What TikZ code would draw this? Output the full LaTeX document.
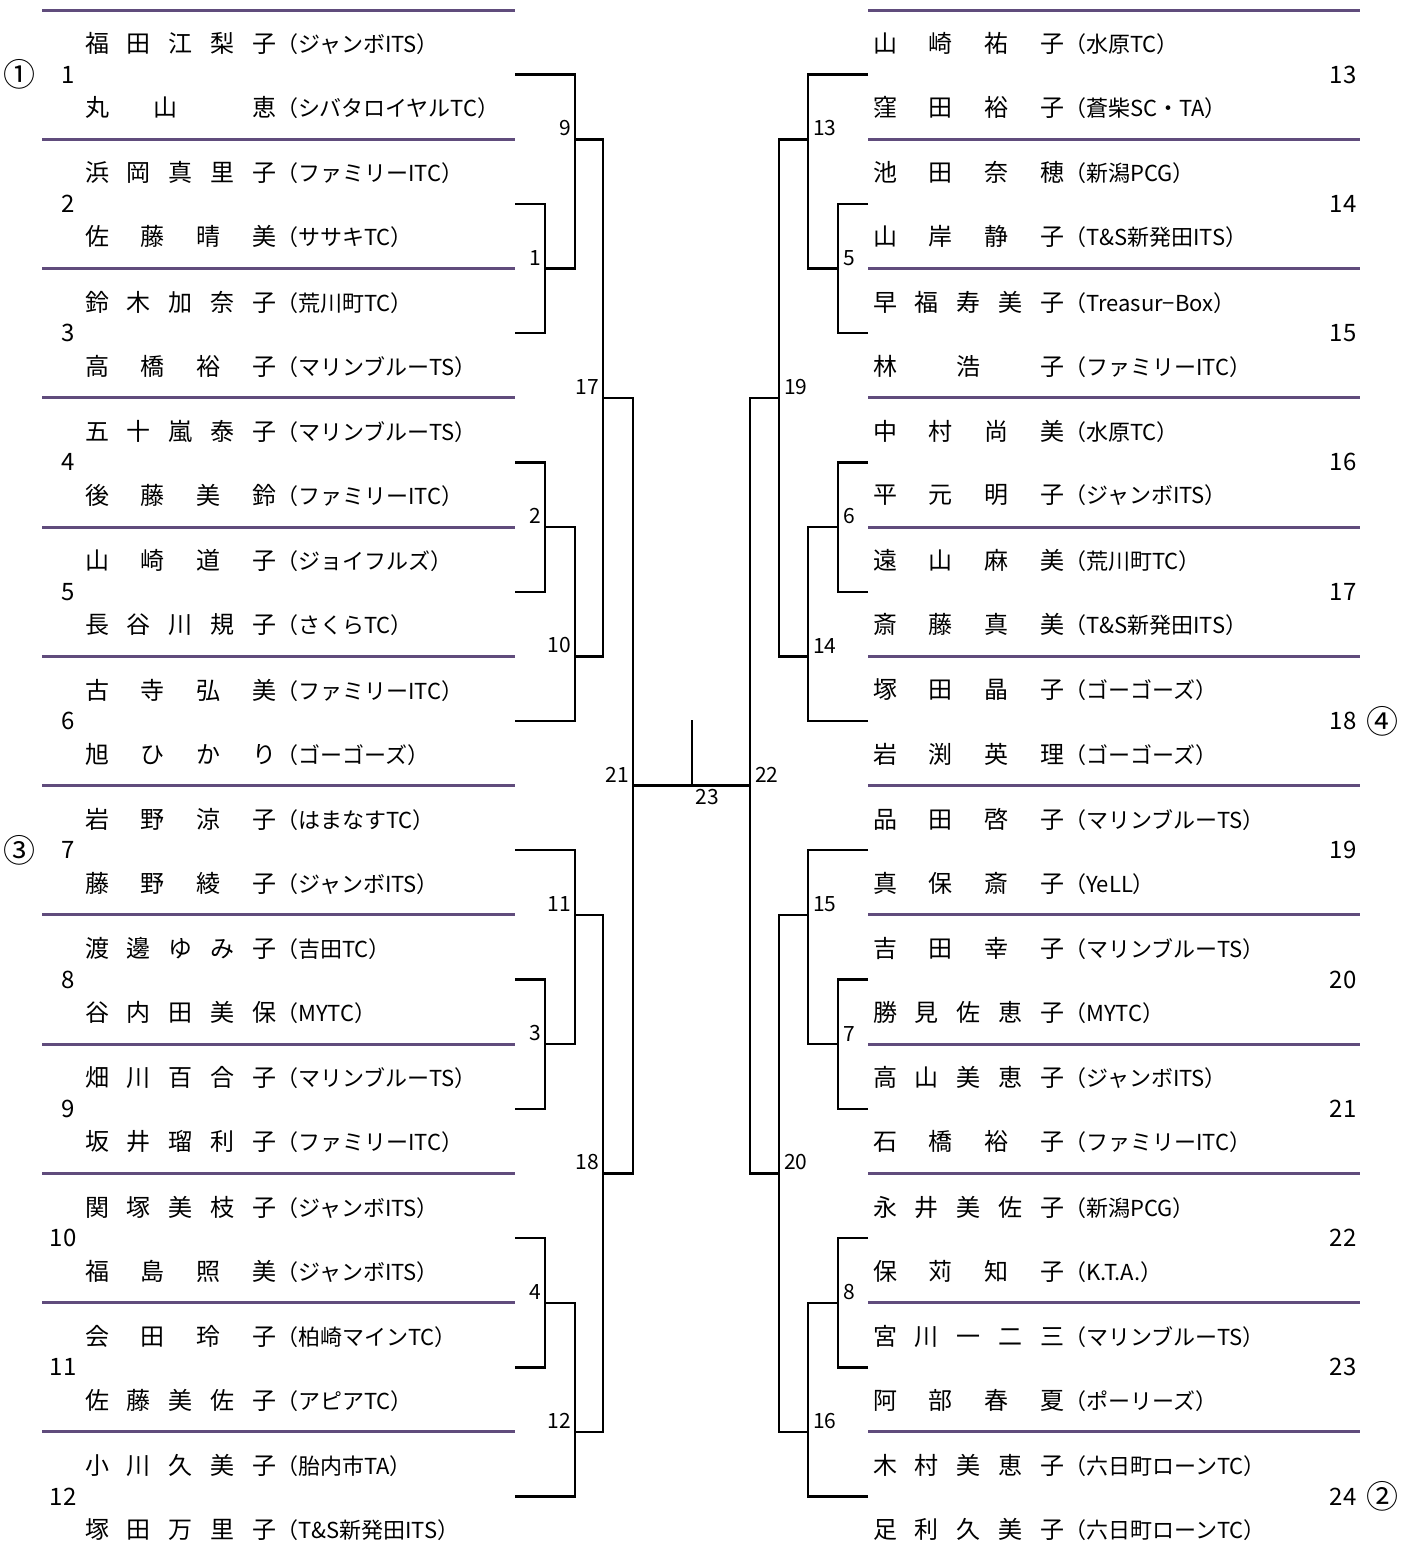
\documentclass[tikz,border=0pt]{standalone}
\usepackage{fontspec}
\setmainfont{Noto Sans CJK JP}
\usetikzlibrary{positioning}
\definecolor{sepline}{RGB}{96,76,124}
\newcommand{\nm}[1]{{\fontsize{24}{24}\selectfont\makebox[191pt][s]{#1}}}
\begin{document}
\begin{tikzpicture}[x=1pt, y=-1pt,
	divider/.style={draw=sepline, line width=3pt},
	bracket/.style={draw=black, line width=2.4pt},
	tnum/.style={font=\fontsize{24}{24}\selectfont, inner sep=0pt},
	seed/.style={font=\fontsize{32}{32}\selectfont, inner sep=0pt},
	pair/.style={font=\fontsize{22}{22}\selectfont, inner sep=0pt, anchor=west},
	mnuml/.style={font=\fontsize{21}{21}\selectfont, inner sep=0pt, anchor=south east, xshift=-4pt, yshift=3pt},
	mnumr/.style={font=\fontsize{21}{21}\selectfont, inner sep=0pt, anchor=south west, xshift=5pt, yshift=3pt},
	]
	\useasboundingbox (0,0) rectangle (1410,1558);
	
	%Dividers
	\foreach \i in {0,...,11} {
		\draw[divider] (42,{10+129.27*\i}) -- (515,{10+129.27*\i});
		\draw[divider] (868,{10+129.27*\i}) -- (1360,{10+129.27*\i});
	}
	
	%Team numbers
	\node[tnum] (t1)  at (68,74.6)   {1};
	\node[tnum] (t2)  at (68,203.9)  {2};
	\node[tnum] (t3)  at (68,333.2)  {3};
	\node[tnum] (t4)  at (68,462.4)  {4};
	\node[tnum] (t5)  at (68,591.7)  {5};
	\node[tnum] (t6)  at (68,721.0)  {6};
	\node[tnum] (t7)  at (68,850.3)  {7};
	\node[tnum] (t8)  at (68,979.5)  {8};
	\node[tnum] (t9)  at (68,1108.8) {9};
	\node[tnum] (t10) at (63,1238.1) {10};
	\node[tnum] (t11) at (63,1367.4) {11};
	\node[tnum] (t12) at (63,1496.6) {12};
	\node[tnum] (t13) at (1343,74.6)   {13};
	\node[tnum] (t14) at (1343,203.9)  {14};
	\node[tnum] (t15) at (1343,333.2)  {15};
	\node[tnum] (t16) at (1343,462.4)  {16};
	\node[tnum] (t17) at (1343,591.7)  {17};
	\node[tnum] (t18) at (1343,721.0)  {18};
	\node[tnum] (t19) at (1343,850.3)  {19};
	\node[tnum] (t20) at (1343,979.5)  {20};
	\node[tnum] (t21) at (1343,1108.8) {21};
	\node[tnum] (t22) at (1343,1238.1) {22};
	\node[tnum] (t23) at (1343,1367.4) {23};
	\node[tnum] (t24) at (1343,1496.6) {24};
	
	%Seeds
	\node[seed] (seed1) [left=25pt of t1]   {①};
	\node[seed] (seed3) [left=25pt of t7]   {③};
	\node[seed] (seed4) [right=10pt of t18] {④};
	\node[seed] (seed2) [right=10pt of t24] {②};
	
	%Pairs, left
	\node[pair] (n1a)  at (85,43.6)   {\nm{福 田 江 梨 子}（ジャンボITS）};
	\node[pair] (n1b)  at (85,107.6)  {\nm{丸\hspace{0pt plus 3fil}山\hspace{0pt plus 5fil}恵}（シバタロイヤルTC）};
	\node[pair] (n2a)  at (85,172.9)  {\nm{浜 岡 真 里 子}（ファミリーITC）};
	\node[pair] (n2b)  at (85,236.9)  {\nm{佐 藤 晴 美}（ササキTC）};
	\node[pair] (n3a)  at (85,302.2)  {\nm{鈴 木 加 奈 子}（荒川町TC）};
	\node[pair] (n3b)  at (85,366.2)  {\nm{高 橋 裕 子}（マリンブルーTS）};
	\node[pair] (n4a)  at (85,431.4)  {\nm{五 十 嵐 泰 子}（マリンブルーTS）};
	\node[pair] (n4b)  at (85,495.4)  {\nm{後 藤 美 鈴}（ファミリーITC）};
	\node[pair] (n5a)  at (85,560.7)  {\nm{山 崎 道 子}（ジョイフルズ）};
	\node[pair] (n5b)  at (85,624.7)  {\nm{長 谷 川 規 子}（さくらTC）};
	\node[pair] (n6a)  at (85,690.0)  {\nm{古 寺 弘 美}（ファミリーITC）};
	\node[pair] (n6b)  at (85,754.0)  {\nm{旭 ひ か り}（ゴーゴーズ）};
	\node[pair] (n7a)  at (85,819.3)  {\nm{岩 野 涼 子}（はまなすTC）};
	\node[pair] (n7b)  at (85,883.3)  {\nm{藤 野 綾 子}（ジャンボITS）};
	\node[pair] (n8a)  at (85,948.5)  {\nm{渡 邊 ゆ み 子}（吉田TC）};
	\node[pair] (n8b)  at (85,1012.5) {\nm{谷 内 田 美 保}（MYTC）};
	\node[pair] (n9a)  at (85,1077.8) {\nm{畑 川 百 合 子}（マリンブルーTS）};
	\node[pair] (n9b)  at (85,1141.8) {\nm{坂 井 瑠 利 子}（ファミリーITC）};
	\node[pair] (n10a) at (85,1207.1) {\nm{関 塚 美 枝 子}（ジャンボITS）};
	\node[pair] (n10b) at (85,1271.1) {\nm{福 島 照 美}（ジャンボITS）};
	\node[pair] (n11a) at (85,1336.4) {\nm{会 田 玲 子}（柏崎マインTC）};
	\node[pair] (n11b) at (85,1400.4) {\nm{佐 藤 美 佐 子}（アピアTC）};
	\node[pair] (n12a) at (85,1465.6) {\nm{小 川 久 美 子}（胎内市TA）};
	\node[pair] (n12b) at (85,1529.6) {\nm{塚 田 万 里 子}（T\&S新発田ITS）};
	
	%Pairs, right
	\node[pair] (n13a) at (873,43.6)   {\nm{山 崎 祐 子}（水原TC）};
	\node[pair] (n13b) at (873,107.6)  {\nm{窪 田 裕 子}（蒼柴SC・TA）};
	\node[pair] (n14a) at (873,172.9)  {\nm{池 田 奈 穂}（新潟PCG）};
	\node[pair] (n14b) at (873,236.9)  {\nm{山 岸 静 子}（T\&S新発田ITS）};
	\node[pair] (n15a) at (873,302.2)  {\nm{早 福 寿 美 子}（Treasur−Box）};
	\node[pair] (n15b) at (873,366.2)  {\nm{林 浩 子}（ファミリーITC）};
	\node[pair] (n16a) at (873,431.4)  {\nm{中 村 尚 美}（水原TC）};
	\node[pair] (n16b) at (873,495.4)  {\nm{平 元 明 子}（ジャンボITS）};
	\node[pair] (n17a) at (873,560.7)  {\nm{遠 山 麻 美}（荒川町TC）};
	\node[pair] (n17b) at (873,624.7)  {\nm{斎 藤 真 美}（T\&S新発田ITS）};
	\node[pair] (n18a) at (873,690.0)  {\nm{塚 田 晶 子}（ゴーゴーズ）};
	\node[pair] (n18b) at (873,754.0)  {\nm{岩 渕 英 理}（ゴーゴーズ）};
	\node[pair] (n19a) at (873,819.3)  {\nm{品 田 啓 子}（マリンブルーTS）};
	\node[pair] (n19b) at (873,883.3)  {\nm{真 保 斎 子}（YeLL）};
	\node[pair] (n20a) at (873,948.5)  {\nm{吉 田 幸 子}（マリンブルーTS）};
	\node[pair] (n20b) at (873,1012.5) {\nm{勝 見 佐 恵 子}（MYTC）};
	\node[pair] (n21a) at (873,1077.8) {\nm{高 山 美 恵 子}（ジャンボITS）};
	\node[pair] (n21b) at (873,1141.8) {\nm{石 橋 裕 子}（ファミリーITC）};
	\node[pair] (n22a) at (873,1207.1) {\nm{永 井 美 佐 子}（新潟PCG）};
	\node[pair] (n22b) at (873,1271.1) {\nm{保 苅 知 子}（K.T.A.）};
	\node[pair] (n23a) at (873,1336.4) {\nm{宮 川 一 二 三}（マリンブルーTS）};
	\node[pair] (n23b) at (873,1400.4) {\nm{阿 部 春 夏}（ポーリーズ）};
	\node[pair] (n24a) at (873,1465.6) {\nm{木 村 美 恵 子}（六日町ローンTC）};
	\node[pair] (n24b) at (873,1529.6) {\nm{足 利 久 美 子}（六日町ローンTC）};
	
	%Bracket ends
	\foreach \k in {1,...,12}
		\coordinate (e\k) at (515,{10+129.27*(\k-0.5)});
	\foreach \k in {13,...,24}
		\coordinate (e\k) at (868,{10+129.27*(\k-12.5)});
	
	%Match points
	\coordinate (m1)  at (545,268.5);
	\coordinate (m2)  at (545,527.1);
	\coordinate (m3)  at (545,1044.2);
	\coordinate (m4)  at (545,1302.7);
	\coordinate (m9)  at (575,139.3);
	\coordinate (m10) at (575,656.4);
	\coordinate (m11) at (575,914.9);
	\coordinate (m12) at (575,1432.0);
	\coordinate (m17) at (603,397.8);
	\coordinate (m18) at (603,1173.4);
	\coordinate (m21) at (633,785.6);
	\coordinate (m5)  at (838,268.5);
	\coordinate (m6)  at (838,527.1);
	\coordinate (m7)  at (838,1044.2);
	\coordinate (m8)  at (838,1302.7);
	\coordinate (m13) at (808,139.3);
	\coordinate (m14) at (808,656.4);
	\coordinate (m15) at (808,914.9);
	\coordinate (m16) at (808,1432.0);
	\coordinate (m19) at (779,397.8);
	\coordinate (m20) at (779,1173.4);
	\coordinate (m22) at (750,785.6);
	\coordinate (m23) at (692,785.6);
	\coordinate (win) at (692,720);
	
	%Lines, left
	\draw[bracket] (e2) -| (m1);  \draw[bracket] (e3) -| (m1);
	\draw[bracket] (e4) -| (m2);  \draw[bracket] (e5) -| (m2);
	\draw[bracket] (e8) -| (m3);  \draw[bracket] (e9) -| (m3);
	\draw[bracket] (e10) -| (m4); \draw[bracket] (e11) -| (m4);
	\draw[bracket] (e1) -| (m9);  \draw[bracket] (m1) -| (m9);
	\draw[bracket] (m2) -| (m10); \draw[bracket] (e6) -| (m10);
	\draw[bracket] (e7) -| (m11); \draw[bracket] (m3) -| (m11);
	\draw[bracket] (m4) -| (m12); \draw[bracket] (e12) -| (m12);
	\draw[bracket] (m9) -| (m17); \draw[bracket] (m10) -| (m17);
	\draw[bracket] (m11) -| (m18); \draw[bracket] (m12) -| (m18);
	\draw[bracket] (m17) -| (m21); \draw[bracket] (m18) -| (m21);
	
	%Lines, right
	\draw[bracket] (e14) -| (m5); \draw[bracket] (e15) -| (m5);
	\draw[bracket] (e16) -| (m6); \draw[bracket] (e17) -| (m6);
	\draw[bracket] (e20) -| (m7); \draw[bracket] (e21) -| (m7);
	\draw[bracket] (e22) -| (m8); \draw[bracket] (e23) -| (m8);
	\draw[bracket] (e13) -| (m13); \draw[bracket] (m5) -| (m13);
	\draw[bracket] (m6) -| (m14); \draw[bracket] (e18) -| (m14);
	\draw[bracket] (e19) -| (m15); \draw[bracket] (m7) -| (m15);
	\draw[bracket] (m8) -| (m16); \draw[bracket] (e24) -| (m16);
	\draw[bracket] (m13) -| (m19); \draw[bracket] (m14) -| (m19);
	\draw[bracket] (m15) -| (m20); \draw[bracket] (m16) -| (m20);
	\draw[bracket] (m19) -| (m22); \draw[bracket] (m20) -| (m22);
	
	%Final
	\draw[bracket] (m21) -- (m23) -- (m22);
	\draw[bracket] (win) -- (m23);
	
	%Match numbers
	\node[mnuml] (l1)  at (m1)  {1};
	\node[mnuml] (l2)  at (m2)  {2};
	\node[mnuml] (l3)  at (m3)  {3};
	\node[mnuml] (l4)  at (m4)  {4};
	\node[mnuml] (l9)  at (m9)  {9};
	\node[mnuml] (l10) at (m10) {10};
	\node[mnuml] (l11) at (m11) {11};
	\node[mnuml] (l12) at (m12) {12};
	\node[mnuml] (l17) at (m17) {17};
	\node[mnuml] (l18) at (m18) {18};
	\node[mnuml] (l21) at (m21) {21};
	\node[mnumr] (l5)  at (m5)  {5};
	\node[mnumr] (l6)  at (m6)  {6};
	\node[mnumr] (l7)  at (m7)  {7};
	\node[mnumr] (l8)  at (m8)  {8};
	\node[mnumr] (l13) at (m13) {13};
	\node[mnumr] (l14) at (m14) {14};
	\node[mnumr] (l15) at (m15) {15};
	\node[mnumr] (l16) at (m16) {16};
	\node[mnumr] (l19) at (m19) {19};
	\node[mnumr] (l20) at (m20) {20};
	\node[mnumr] (l22) at (m22) {22};
	\node[mnumr, anchor=north, xshift=10pt, yshift=-6pt] (l23) at (m23) {23};
	
\end{tikzpicture}
\end{document}
